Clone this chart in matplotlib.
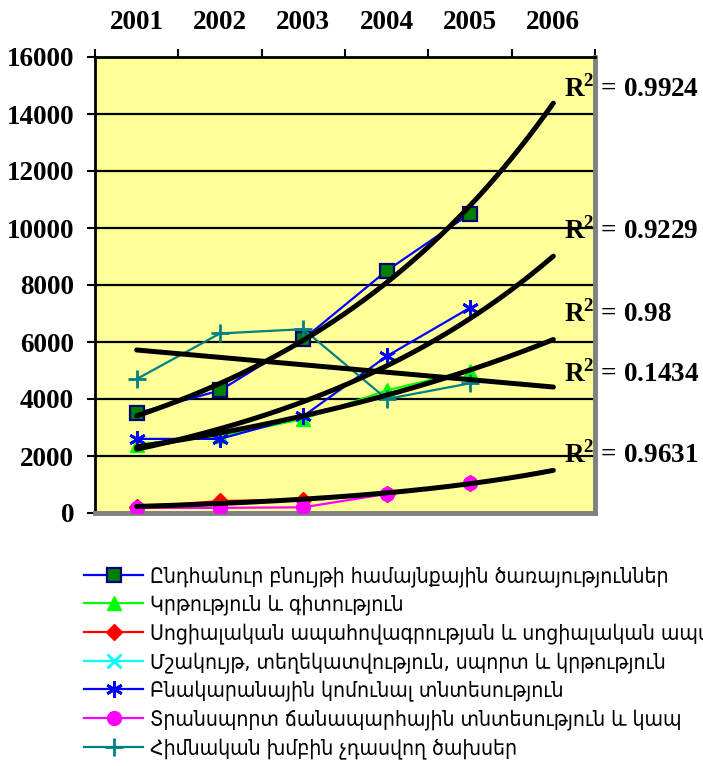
import numpy as np
import matplotlib
matplotlib.use('Agg')
import matplotlib.pyplot as plt
from matplotlib.font_manager import FontProperties
from matplotlib.ticker import FixedLocator, NullFormatter

years = ['2001', '2002', '2003', '2004', '2005', '2006']

communal = [3500, 4300, 6100, 8500, 10500]
education = [2400, 2700, 3300, 4300, 5000]
social = [200, 420, 470, 650, 1050]
culture = [np.nan] * 5
housing = [2600, 2600, 3400, 5500, 7200]
transport = [180, 180, 200, 670, 1060]
other = [4700, 6300, 6450, 4000, 4550]

labels = [
    'Ընդհանուր բնույթի համայնքային ծառայություններ',
    'Կրթություն և գիտություն',
    'Սոցիալական ապահովագրության և սոցիալական ապահովություն',
    'Մշակույթ, տեղեկատվություն, սպորտ և կրթություն',
    'Բնակարանային կոմունալ տնտեսություն',
    'Տրանսպորտ ճանապարհային տնտեսություն և կապ',
    'Հիմնական խմբին չդասվող ծախսեր',
]

# trend type and the R² text shown next to it
trends = [
    (communal, 'exp', '0.9924', 14900),
    (housing, 'exp', '0.9229', 9900),
    (education, 'exp', '0.98', 7000),
    (other, 'lin', '0.1434', 4900),
    (social, 'exp', '0.9631', 2050),
]

plt.rcParams['mathtext.fontset'] = 'custom'
plt.rcParams['mathtext.bf'] = 'Liberation Serif:bold'
plt.rcParams['mathtext.rm'] = 'Liberation Serif:bold'

serif = FontProperties(family='Liberation Serif', weight='bold', size=19.5)

fig = plt.figure(figsize=(7.03, 7.66), dpi=100)
ax = fig.add_axes([95 / 703, 1 - 513 / 766, 500 / 703, 456 / 766])
ax.set_facecolor('#FFFF99')

x = np.arange(1, 6)
styles = [
    (communal, dict(color='#0000FF', marker='s', ms=9.5, mfc='#008000', mec='#000080', mew=1.6)),
    (education, dict(color='#00FF00', marker='^', ms=10, mfc='#00FF00', mec='#00FF00')),
    (social, dict(color='#FF0000', marker='D', ms=8, mfc='#FF0000', mec='#FF0000')),
    (culture, dict(color='#00FFFF', marker='x', ms=10, mew=2)),
    (housing, dict(color='#0000FF', marker=(6, 2, 0), ms=12, mew=2)),
    (transport, dict(color='#FF00FF', marker='o', ms=10, mfc='#FF00FF', mec='#FF00FF')),
    (other, dict(color='#008080', marker='+', ms=13, mew=2)),
]
handles = []
for (vals, kw), lab in zip(styles, labels):
    h, = ax.plot(x, vals, lw=1.6, label=lab, zorder=3, **kw)
    handles.append(h)

# trend lines, projected one year ahead
xf = np.linspace(1, 6, 200)
for vals, kind, r2, ylab in trends:
    v = np.asarray(vals, dtype=float)
    if kind == 'exp':
        b, a = np.polyfit(x, np.log(v), 1)
        yf = np.exp(a + b * xf)
    else:
        b, a = np.polyfit(x, v, 1)
        yf = a + b * xf
    ax.plot(xf, yf, color='black', lw=3.6, zorder=4, solid_capstyle='round')
    ax.annotate(r'R$^{\mathbf{2}}$ = ' + r2, xy=(0.937, ylab), xycoords=('axes fraction', 'data'),
                va='center', ha='left', fontproperties=serif,
                annotation_clip=False, zorder=6)

ax.set_xlim(0.5, 6.5)
ax.set_ylim(0, 16000)
ax.set_yticks(np.arange(0, 16001, 2000))
ax.grid(axis='y', color='black', lw=1.6)
ax.set_axisbelow(True)

ax.xaxis.tick_top()
ax.xaxis.set_major_locator(FixedLocator(np.arange(0.5, 6.6, 1)))
ax.xaxis.set_major_formatter(NullFormatter())
ax.xaxis.set_minor_locator(FixedLocator(np.arange(1, 7)))
ax.set_xticklabels(years, minor=True)
ax.tick_params(axis='x', which='major', direction='out', length=6, width=1.5, color='black')
ax.tick_params(axis='x', which='minor', length=0, pad=16)
ax.tick_params(axis='y', direction='out', length=6, width=1.5, pad=9)
for t in ax.get_yticklabels() + ax.get_xticklabels(minor=True):
    t.set_fontproperties(serif)

for side in ('left', 'top'):
    ax.spines[side].set_color('black')
    ax.spines[side].set_linewidth(2)
for side in ('right', 'bottom'):
    ax.spines[side].set_color('#808080')
    ax.spines[side].set_linewidth(3.5)

fig.legend(handles=handles, loc='upper left', bbox_to_anchor=(84 / 703, 1 - 566 / 766),
           frameon=False,
           prop=FontProperties(family='DejaVu Sans', stretch='condensed', size=15.2),
           handlelength=2.8, handletextpad=0.35, labelspacing=0.37,
           borderpad=0, borderaxespad=0)

fig.savefig('out.png', dpi=100)
